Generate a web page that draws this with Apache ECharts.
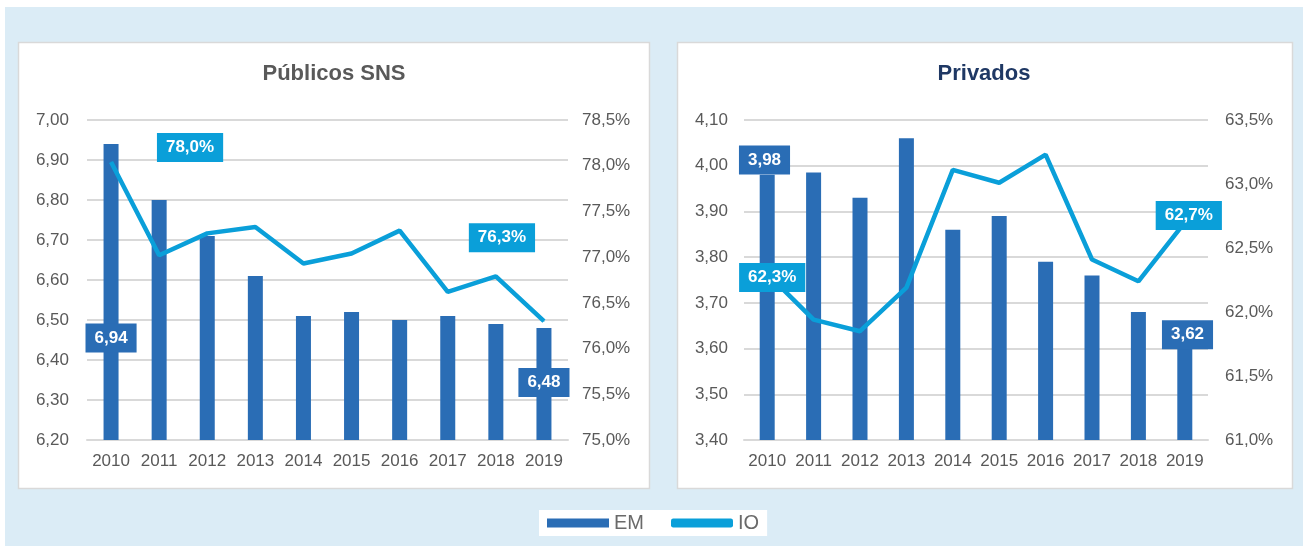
<!DOCTYPE html>
<html>
<head>
<meta charset="utf-8">
<script src="https://cdn.jsdelivr.net/npm/echarts@6/dist/echarts.min.js"></script>
<style>
  html, body { margin: 0; padding: 0; background: #fff; }
  #chart { width: 1303px; height: 546px; }
</style>
</head>
<body>
<div id="chart"></div>
<script>
// data
const years = ['2010', '2011', '2012', '2013', '2014', '2015', '2016', '2017', '2018', '2019'];
const emPublicos = [6.94, 6.80, 6.71, 6.61, 6.51, 6.52, 6.50, 6.51, 6.49, 6.48];
const ioPublicos = [78.04, 77.02, 77.26, 77.33, 76.93, 77.04, 77.29, 76.62, 76.79, 76.30];
const emPrivados = [3.98, 3.985, 3.93, 4.06, 3.86, 3.89, 3.79, 3.76, 3.68, 3.62];
const ioPrivados = [62.30, 61.94, 61.85, 62.19, 63.11, 63.01, 63.23, 62.41, 62.24, 62.70];
const titles = ['Públicos SNS', 'Privados'];

const FONT = 'Liberation Sans, Arial, sans-serif';
const BAR = '#2a6db5';
const LINE = '#0a9fd9';
const GREY = '#595959';

const fmtEm = v => v.toFixed(2).replace('.', ',');
const fmtIo = v => v.toFixed(1).replace('.', ',') + '%';

// only first and last points carry a label box
function labelled(values, color, fmt, offsets) {
  return values.map((v, i) => {
    if (!offsets[i]) return v;
    return {
      value: v,
      label: {
        show: true,
        position: 'inside',
        offset: offsets[i],
        formatter: p => fmt(p.value),
        color: '#fff',
        fontFamily: FONT,
        fontWeight: 'bold',
        fontSize: 17,
        backgroundColor: color,
        padding: [6, 9, 6, 9]
      }
    };
  });
}

const chart = echarts.init(document.getElementById('chart'));

const axisLabel = { color: GREY, fontFamily: FONT, fontSize: 17 };

const option = {
  backgroundColor: '#ffffff',
  animation: false,
  graphic: {
    elements: [
      { type: 'rect', z: -10, shape: { x: 5, y: 7, width: 1298, height: 539 }, style: { fill: '#dbecf6' } },
      { type: 'rect', z: -9, shape: { x: 18.5, y: 42.5, width: 631, height: 446 }, style: { fill: '#fff', stroke: '#d9d9d9', lineWidth: 1.5 } },
      { type: 'rect', z: -9, shape: { x: 677.5, y: 42.5, width: 615, height: 446 }, style: { fill: '#fff', stroke: '#d9d9d9', lineWidth: 1.5 } }
    ]
  },
  title: [
    { text: titles[0], left: 334, top: 63, textAlign: 'center', padding: 0,
      textStyle: { color: GREY, fontFamily: FONT, fontSize: 22, fontWeight: 'bold' } },
    { text: titles[1], left: 984, top: 63, textAlign: 'center', padding: 0,
      textStyle: { color: '#1f3864', fontFamily: FONT, fontSize: 22, fontWeight: 'bold' } }
  ],
  legend: {
    data: [{ name: 'EM', icon: 'rect' }, { name: 'IO', icon: 'roundRect' }],
    left: 539,
    top: 510,
    padding: [3, 8, 3, 8],
    backgroundColor: '#fff',
    itemWidth: 62,
    itemHeight: 9,
    itemGap: 27,
    textStyle: { color: '#6a6a6a', fontFamily: FONT, fontSize: 20 }
  },
  grid: [
    { left: 87, top: 120, width: 481, height: 320 },
    { left: 744, top: 120, width: 464, height: 320 }
  ],
  xAxis: [0, 1].map(g => ({
    type: 'category',
    gridIndex: g,
    data: years,
    axisLine: { lineStyle: { color: '#d9d9d9', width: 2 } },
    axisTick: { show: false },
    axisLabel: Object.assign({ margin: 13, interval: 0 }, axisLabel)
  })),
  yAxis: [
    { type: 'value', gridIndex: 0, min: 6.2, max: 7.0, interval: 0.1,
      axisLabel: Object.assign({ margin: 18, formatter: fmtEm }, axisLabel),
      splitLine: { lineStyle: { color: '#d9d9d9', width: 2 } } },
    { type: 'value', gridIndex: 0, position: 'right', min: 75, max: 78.5, interval: 0.5,
      axisLabel: Object.assign({ margin: 14, formatter: fmtIo }, axisLabel),
      splitLine: { show: false } },
    { type: 'value', gridIndex: 1, min: 3.4, max: 4.1, interval: 0.1,
      axisLabel: Object.assign({ margin: 16, formatter: fmtEm }, axisLabel),
      splitLine: { lineStyle: { color: '#d9d9d9', width: 2 } } },
    { type: 'value', gridIndex: 1, position: 'right', min: 61, max: 63.5, interval: 0.5,
      axisLabel: Object.assign({ margin: 17, formatter: fmtIo }, axisLabel),
      splitLine: { show: false } }
  ],
  series: [
    {
      name: 'EM', type: 'bar', xAxisIndex: 0, yAxisIndex: 0, barWidth: 15,
      itemStyle: { color: BAR },
      data: labelled(emPublicos, BAR, fmtEm, { 0: [0, 46], 9: [0, -1.5] })
    },
    {
      name: 'IO', type: 'line', xAxisIndex: 0, yAxisIndex: 1, z: 5,
      symbol: 'circle', symbolSize: 1, showSymbol: true,
      lineStyle: { color: LINE, width: 4.5 },
      itemStyle: { color: LINE },
      data: labelled(ioPublicos, LINE, fmtIo, { 0: [79, -14.5], 9: [-42, -83.5] })
    },
    {
      name: 'EM', type: 'bar', xAxisIndex: 1, yAxisIndex: 2, barWidth: 15,
      itemStyle: { color: BAR },
      data: labelled(emPrivados, BAR, fmtEm, { 0: [-2.7, -147.4], 9: [2.7, -55] })
    },
    {
      name: 'IO', type: 'line', xAxisIndex: 1, yAxisIndex: 3, z: 5,
      symbol: 'circle', symbolSize: 1, showSymbol: true,
      lineStyle: { color: LINE, width: 4.5 },
      itemStyle: { color: LINE },
      data: labelled(ioPrivados, LINE, fmtIo, { 0: [5, 4], 9: [4, -7] })
    }
  ]
};

chart.setOption(option);
</script>
</body>
</html>
